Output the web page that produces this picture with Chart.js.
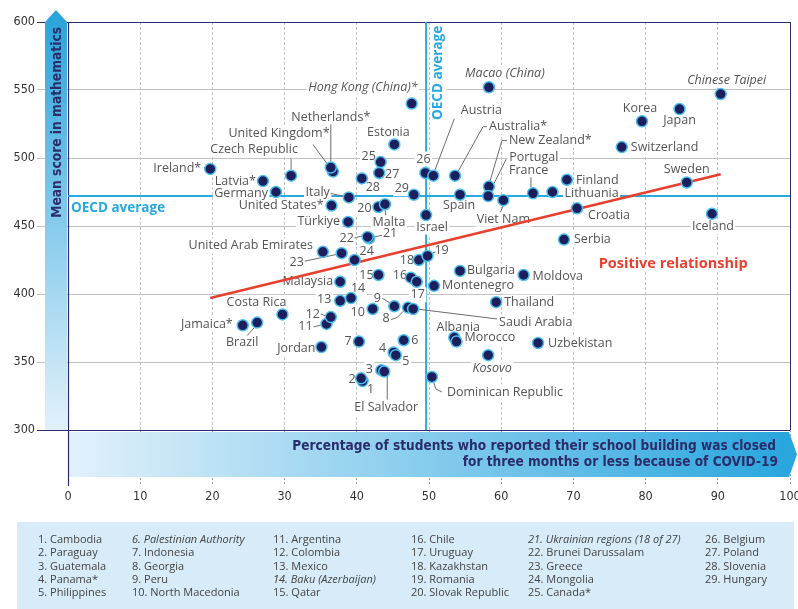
<!DOCTYPE html>
<html><head><meta charset="utf-8">
<script src="https://cdn.jsdelivr.net/npm/chart.js@4.4.1/dist/chart.umd.min.js"></script>
<style>html,body{margin:0;padding:0;background:#fff}#wrap{width:798px;height:609px;position:relative}</style>
</head><body><div id="wrap"><canvas id="c" width="798" height="609"></canvas></div>
<script>
// ---------------- DATA ----------------
const countries = ["Cambodia","Paraguay","Guatemala","Panama*","Philippines","Palestinian Authority","Indonesia","Georgia","Peru","North Macedonia","Argentina","Colombia","Mexico","Baku (Azerbaijan)","Qatar","Chile","Uruguay","Kazakhstan","Romania","Slovak Republic","Ukrainian regions (18 of 27)","Brunei Darussalam","Greece","Mongolia","Canada*","Belgium","Poland","Slovenia","Hungary",
"Ireland*","Latvia*","Germany","Czech Republic","United Kingdom*","Netherlands*","Hong Kong (China)*","Macao (China)","Estonia","Austria","Australia*","New Zealand*","Portugal","France","Finland","Lithuania","Chinese Taipei","Korea","Japan","Switzerland","Sweden","Iceland","Croatia","Serbia","Viet Nam","Spain","Italy","United States*","Malta","Israel","Türkiye","United Arab Emirates","Malaysia","Bulgaria","Moldova","Montenegro","Thailand","Saudi Arabia","Albania","Morocco","Kosovo","Uzbekistan","Dominican Republic","El Salvador","Costa Rica","Jamaica*","Brazil","Jordan"];
const pctClosed = [40.8,40.6,43.4,45.1,45.4,46.5,40.3,47.1,45.2,42.2,35.8,36.4,37.7,39.2,43.0,47.5,48.3,48.6,49.8,43.0,41.7,41.5,37.9,39.7,43.3,49.5,43.1,40.7,47.9,
19.7,27.0,28.8,30.9,36.7,36.4,47.6,58.3,45.2,50.6,53.6,58.3,58.2,64.4,69.1,67.1,90.4,79.5,84.7,76.7,85.7,89.2,70.5,68.7,60.3,54.3,38.9,36.5,43.9,49.6,38.8,35.3,37.7,54.3,63.1,50.7,59.3,47.8,53.5,53.8,58.2,65.1,50.4,43.8,29.7,24.2,26.2,35.1];
const mathScore = [336,338,344,357,355,366,365,390,391,389,378,383,395,397,414,412,409,425,428,464,441,442,430,425,497,489,489,485,473,
492,483,475,487,490,493,540,552,510,487,487,479,472,474,484,475,547,527,536,508,482,459,463,440,469,473,471,465,466,458,453,431,409,417,414,406,394,389,368,365,355,364,339,343,385,377,379,361];
const numberedCount = 29;               // first 29 countries are shown by number
const italicCountries = ["Hong Kong (China)*","Macao (China)","Chinese Taipei","Kosovo","Palestinian Authority","Baku (Azerbaijan)","Ukrainian regions (18 of 27)"];
const trendX = [19.7, 90.4];
const trendY = [397, 488];
const oecdMath = 472;
const oecdClosed = 49.6;
const xTicks = [0,10,20,30,40,50,60,70,80,90,100];
const yTicks = [300,350,400,450,500,550,600];
const xTitle = ["Percentage of students who reported their school building was closed","for three months or less because of COVID-19"];
const yTitle = "Mean score in mathematics";

// ---------------- LABEL LAYOUT (pixel offsets from the point) ----------------
// [dx, dy, align, leader polyline offsets]
const L = {
 "Cambodia":[8,8,"center"],"Paraguay":[-9,1,"center"],"Guatemala":[-12,-1,"center"],"Panama*":[-11,-4,"center"],
 "Philippines":[10,6,"center"],"Palestinian Authority":[11,0,"center"],"Indonesia":[-11,0,"center"],
 "Georgia":[-22,11,"center",[[-17,12],[-11,10],[-3,2]]],"Peru":[-17,-8,"center",[[-12,-8],[-4,-3]]],
 "North Macedonia":[-15,3,"center"],"Argentina":[-21,3,"center",[[-13,3],[-5,1]]],"Colombia":[-18,-3,"center",[[-10,-3],[-4,-1]]],
 "Mexico":[-16,-1,"center"],"Baku (Azerbaijan)":[7,-10,"center"],"Qatar":[-12,0,"center"],"Chile":[-11,-2,"center"],
 "Uruguay":[1,13,"center"],"Kazakhstan":[-12,0,"center"],"Romania":[14,-5,"center",[[3,-2],[8,-4]]],
 "Slovak Republic":[-14,1,"center"],"Ukrainian regions (18 of 27)":[21,-5,"center",[[4,-1],[13,-3]]],
 "Brunei Darussalam":[-21,2,"center",[[-13,1],[-5,-1]]],"Greece":[-45,9,"center",[[-37,8],[-4,1]]],
 "Mongolia":[12,-9,"center"],"Canada*":[-12,-6,"center"],"Belgium":[-2,-14,"center"],"Poland":[13,1,"center"],
 "Slovenia":[11,9,"center"],"Hungary":[-12,-6,"center"],
 "Ireland*":[-9,0,"right"],"Latvia*":[-7,0,"right"],"Germany":[-8,1,"right"],
 "Czech Republic":[-37,-26,"center",[[0,-17],[0,-6]]],
 "United Kingdom*":[-54,-38,"center",[[-20,-27],[-3,-4]]],
 "Netherlands*":[0,-50,"center",[[0,-43],[0,-6]]],
 "Hong Kong (China)*":[6,-16,"right"],"Macao (China)":[16,-14,"center"],"Estonia":[-6,-12,"center"],
 "Austria":[48,-65,"center",[[21,-57],[1,-4]]],
 "Australia*":[34,-49,"left",[[32,-49],[28,-49],[3,-4]]],
 "New Zealand*":[20,-46,"left",[[18,-46],[13,-46],[1,-5]]],
 "Portugal":[21,-39,"left",[[18,-37],[2,-5]]],
 "France":[-24,-23,"left",[[-2,-16],[-2,-6]]],
 "Finland":[9,1,"left"],"Lithuania":[12,1,"left"],"Chinese Taipei":[6,-14,"center"],"Korea":[-2,-13,"center"],
 "Japan":[0,11,"center"],"Switzerland":[9,0,"left"],"Sweden":[0,-13,"center"],"Iceland":[1,13,"center"],
 "Croatia":[11,7,"left"],"Serbia":[10,0,"left"],"Viet Nam":[0,19,"center",[[0,5],[-3,12]]],"Spain":[-1,11,"center"],
 "Italy":[-19,-5,"right",[[-18,-4],[-5,-1]]],"United States*":[-8,0,"right"],
 "Malta":[4,18,"center",[[0,4],[1,11]]],"Israel":[6,12,"center"],"Türkiye":[-8,0,"right"],
 "United Arab Emirates":[-10,-6,"right"],"Malaysia":[-7,0,"right"],"Bulgaria":[7,0,"left"],"Moldova":[9,1,"left"],
 "Montenegro":[8,0,"left"],"Thailand":[8,0,"left"],"Saudi Arabia":[86,13,"left",[[3,0],[84,10]]],
 "Albania":[4,-10,"center"],"Morocco":[8,-4,"left"],"Kosovo":[4,13,"center"],"Uzbekistan":[10,0,"left"],
 "Dominican Republic":[15,15,"left",[[1,3],[4,12],[10,15]]],
 "El Salvador":[2,36,"center",[[3,3],[3,28]]],"Costa Rica":[-26,-12,"center"],"Jamaica*":[-10,-1,"right"],
 "Brazil":[-15,20,"center",[[-10,13],[-1,3]]],"Jordan":[-6,1,"right"]
};

const NAVY = '#2b2d6b', CYAN = '#27a9e1', RED = '#e8402f', GRID = '#c2c2c2', LABEL = '#555555';
const NARROW = '"Liberation Sans Narrow","DejaVu Sans Condensed","Open Sans",sans-serif';
const SANS = '"Open Sans","Noto Sans",sans-serif';

function fitFont(ctx, text, weight, family, target, base) {
  ctx.font = weight + ' ' + base + 'px ' + family;
  const w = ctx.measureText(text).width;
  const size = base * target / w;
  ctx.font = weight + ' ' + size.toFixed(2) + 'px ' + family;
}

const overlay = {
  id: 'overlay',
  beforeDatasetsDraw(chart) {
    const {ctx, chartArea: a, scales: {x, y}} = chart;
    ctx.save();
    // y-axis gradient arrow bar
    const bx0 = a.left - 23, bx1 = a.left - 1;
    let g = ctx.createLinearGradient(0, a.top - 12, 0, a.bottom);
    g.addColorStop(0, '#27a3dc'); g.addColorStop(1, '#e2f1fb');
    ctx.fillStyle = g;
    ctx.beginPath();
    ctx.moveTo(bx0, a.bottom); ctx.lineTo(bx0, a.top); ctx.lineTo((bx0 + bx1) / 2, a.top - 12);
    ctx.lineTo(bx1, a.top); ctx.lineTo(bx1, a.bottom); ctx.closePath(); ctx.fill();
    // x-axis gradient arrow band
    const by0 = a.bottom + 2, by1 = a.bottom + 47;
    g = ctx.createLinearGradient(a.left, 0, a.right + 7, 0);
    g.addColorStop(0, '#e2f1fb'); g.addColorStop(1, '#27a5de');
    ctx.fillStyle = g;
    ctx.beginPath();
    ctx.moveTo(a.left, by0); ctx.lineTo(a.right - 1, by0); ctx.lineTo(a.right + 7, (by0 + by1) / 2);
    ctx.lineTo(a.right - 1, by1); ctx.lineTo(a.left, by1); ctx.closePath(); ctx.fill();
    // axis lines redrawn over bars
    ctx.strokeStyle = NAVY; ctx.lineWidth = 1.2;
    ctx.beginPath();
    ctx.moveTo(a.left - 31, a.bottom + 0.5); ctx.lineTo(a.right, a.bottom + 0.5);
    ctx.moveTo(a.left + 0.5, a.top); ctx.lineTo(a.left + 0.5, a.bottom + 56);
    ctx.stroke();
    // axis titles
    ctx.fillStyle = NAVY; ctx.textBaseline = 'middle';
    fitFont(ctx, xTitle[0], 'bold', NARROW, 484, 15);
    ctx.textAlign = 'right';
    ctx.fillText(xTitle[0], a.right - 14, a.bottom + 16);
    ctx.fillText(xTitle[1], a.right - 12, a.bottom + 32);
    ctx.save();
    ctx.translate((bx0 + bx1) / 2 + 1, a.top + 5);
    ctx.rotate(-Math.PI / 2);
    fitFont(ctx, yTitle, 'bold', NARROW, 191, 15);
    ctx.textAlign = 'right';
    ctx.fillText(yTitle, 0, 0);
    ctx.restore();

    // OECD average lines
    const ox = x.getPixelForValue(oecdClosed), oy = y.getPixelForValue(oecdMath);
    ctx.strokeStyle = CYAN; ctx.lineWidth = 2;
    ctx.beginPath();
    ctx.moveTo(a.left, oy); ctx.lineTo(a.right, oy);
    ctx.moveTo(ox, a.top); ctx.lineTo(ox, a.bottom);
    ctx.stroke();

    // labels
    const items = [];
    countries.forEach((c, i) => {
      const spec = L[c]; if (!spec) return;
      const px = x.getPixelForValue(pctClosed[i]), py = y.getPixelForValue(mathScore[i]);
      const text = i < numberedCount ? String(i + 1) : c;
      const it = italicCountries.includes(c) && i >= numberedCount;
      items.push({px, py, spec, text, font: (it ? 'italic ' : '') + '12.5px ' + SANS, color: LABEL});
    });
    const extras = [
      {text: 'OECD average', tx: a.left + 3, ty: oy + 12, align: 'left', font: 'bold 13.5px ' + SANS, color: CYAN},
      {text: 'Positive relationship', tx: x.getPixelForValue(73.5), ty: y.getPixelForValue(422), align: 'left', font: 'bold 14.5px ' + SANS, color: RED}
    ];
    items.forEach(o => { o.tx = o.px + o.spec[0]; o.ty = o.py + o.spec[1]; o.align = o.spec[2]; });
    const all = items.concat(extras);
    ctx.textBaseline = 'middle';
    all.forEach(o => {
      ctx.font = o.font;
      const w = ctx.measureText(o.text).width;
      let x0 = o.align === 'left' ? o.tx : o.align === 'right' ? o.tx - w : o.tx - w / 2;
      o.w = w; o.x0 = x0;
      ctx.fillStyle = '#ffffff';
      ctx.fillRect(x0 - 1.5, o.ty - 7.5, w + 3, 15);
    });
    // vertical OECD text
    ctx.save();
    ctx.translate(ox + 12, a.top + 98);
    ctx.rotate(-Math.PI / 2);
    ctx.font = 'bold 13.5px ' + SANS;
    ctx.fillStyle = '#ffffff';
    const vw = ctx.measureText('OECD average').width;
    ctx.fillRect(-1, -8, vw + 2, 16);
    ctx.fillStyle = CYAN; ctx.textAlign = 'left';
    ctx.fillText('OECD average', 0, 0);
    ctx.restore();

    all.forEach(o => {
      ctx.font = o.font; ctx.fillStyle = o.color; ctx.textAlign = 'left';
      ctx.fillText(o.text, o.x0, o.ty);
    });
    // leaders
    ctx.strokeStyle = '#6d6d6d'; ctx.lineWidth = 1;
    items.forEach(o => {
      const ld = o.spec[3]; if (!ld) return;
      ctx.beginPath();
      ld.forEach((p, k) => { const X = o.px + p[0], Y = o.py + p[1]; k ? ctx.lineTo(X, Y) : ctx.moveTo(X, Y); });
      ctx.stroke();
    });
    ctx.restore();
  },
  afterDraw(chart) {
    const ctx = chart.ctx;
    ctx.save();
    ctx.fillStyle = '#d7ebf8';
    ctx.fillRect(17, 522, 777, 87);
    const cols = [38, 132, 273, 411, 528, 705];
    ctx.fillStyle = '#444'; ctx.textBaseline = 'middle'; ctx.textAlign = 'left';
    for (let i = 0; i < numberedCount; i++) {
      const c = countries[i];
      const col = Math.floor(i / 5), row = i % 5;
      ctx.font = (italicCountries.includes(c) ? 'italic ' : '') + '11px ' + SANS;
      ctx.fillText((i + 1) + '. ' + c, cols[col], 540 + row * 13.3);
    }
    ctx.restore();
  }
};

const pts = pctClosed.map((v, i) => ({x: v, y: mathScore[i]}));
new Chart(document.getElementById('c'), {
  type: 'scatter',
  data: {
    datasets: [
      {type: 'scatter', data: pts, backgroundColor: '#1c1f5c', borderColor: '#4cbfee', borderWidth: 1.5, pointRadius: 5.5, order: 0},
      {type: 'line', data: trendX.map((v, i) => ({x: v, y: trendY[i]})), borderColor: RED, borderWidth: 2.5, pointRadius: 0, fill: false, order: 1}
    ]
  },
  options: {
    responsive: false, animation: false, devicePixelRatio: 1,
    layout: {padding: {top: 22, right: 8, left: 0, bottom: 0}},
    plugins: {legend: {display: false}, tooltip: {enabled: false}},
    scales: {
      x: {
        type: 'linear', min: 0, max: 100,
        afterBuildTicks: s => { s.ticks = xTicks.map(v => ({value: v})); },
        afterFit: s => { s.height = 179; s.paddingLeft = 0; s.paddingRight = 0; },
        ticks: {padding: 3, color: '#333', maxRotation: 0, font: {family: NARROW, size: 12.5}},
        grid: {
          color: c => (c.tick && (c.tick.value === 0 || c.tick.value === 100)) ? NAVY : GRID,
          tickColor: '#999', tickLength: 56, tickBorderDash: [2, 2]
        },
        border: {display: false, dash: c => (c.tick && (c.tick.value === 0 || c.tick.value === 100)) ? [] : [3, 2]}
      },
      y: {
        type: 'linear', min: 300, max: 600,
        afterBuildTicks: s => { s.ticks = yTicks.map(v => ({value: v})); },
        afterFit: s => { s.width = 68; s.paddingTop = 0; s.paddingBottom = 0; },
        ticks: {padding: 2, color: '#333', font: {family: NARROW, size: 12.5}},
        grid: {
          color: c => (c.tick && (c.tick.value === 300 || c.tick.value === 600)) ? NAVY : GRID,
          tickLength: 31
        },
        border: {display: false}
      }
    }
  },
  plugins: [overlay]
});
</script>
</body></html>
